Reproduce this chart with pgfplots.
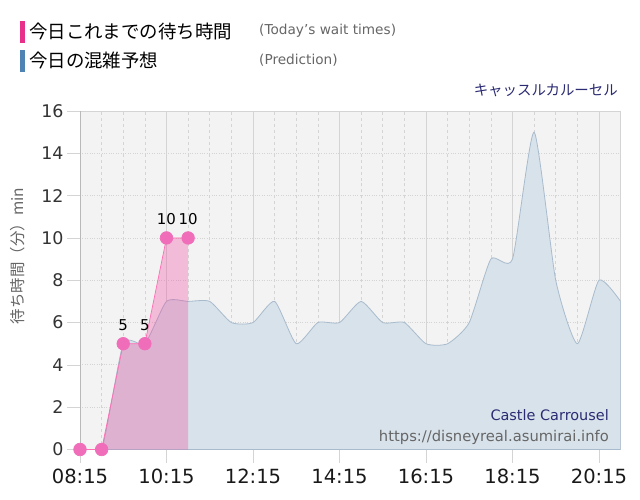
\documentclass[border=0pt]{standalone}
\usepackage{fontspec}
\setmainfont{DejaVu Sans}
\newfontfamily\jp{Noto Sans CJK JP}
\usepackage{pgfplots}
\pgfplotsset{compat=1.18}
\definecolor{pinkbar}{HTML}{E8308A}
\definecolor{bluebar}{HTML}{4F83B3}
\definecolor{pinkline}{HTML}{FF6EB4}
\definecolor{pinkmark}{HTML}{F06EB9}
\definecolor{pinkfill}{HTML}{F0409A}
\definecolor{bluefill}{HTML}{D8E2EA}
\definecolor{blueline}{HTML}{A8BBCD}
\definecolor{bggray}{HTML}{F3F3F3}
\definecolor{navy}{HTML}{2B2B73}
\definecolor{textgray}{HTML}{666666}
\definecolor{gridgray}{HTML}{D4D4D4}
\begin{document}
\begin{tikzpicture}
\path[use as bounding box] (0bp,0bp) rectangle (640bp,500bp);
% legend
\fill[pinkbar] (20bp,479bp) rectangle (25bp,457bp);
\fill[bluebar] (20bp,450bp) rectangle (25bp,428bp);
\node[anchor=west,inner sep=0pt] at (29bp,468.5bp) {\jp\fontsize{18.5}{20}\selectfont 今日これまでの待ち時間};
\node[anchor=west,inner sep=0pt] at (29bp,439.5bp) {\jp\fontsize{18.5}{20}\selectfont 今日の混雑予想};
\node[anchor=west,inner sep=0pt,text=textgray] at (259bp,469bp) {\fontsize{13.7}{15}\selectfont (Today's wait times)};
\node[anchor=west,inner sep=0pt,text=textgray] at (259bp,440bp) {\fontsize{13.7}{15}\selectfont (Prediction)};
\node[anchor=east,inner sep=0pt,text=navy] at (618bp,410bp) {\jp\fontsize{14.5}{15}\selectfont キャッスルカルーセル};
\node[rotate=90,inner sep=0pt,text=textgray] at (18bp,244bp) {\jp\fontsize{15.5}{16}\selectfont 待ち時間（分）min};
\begin{axis}[
  at={(80bp,50.5bp)}, anchor=south west, scale only axis,
  width=540.6bp, height=338.5bp,
  xmin=8.25, xmax=20.75, ymin=0, ymax=16,
  xtick={8.25,10.25,12.25,14.25,16.25,18.25,20.25},
  xticklabels={08:15,10:15,12:15,14:15,16:15,18:15,20:15},
  minor xtick={8.75,9.25,9.75,10.75,11.25,11.75,12.75,13.25,13.75,14.75,15.25,15.75,16.75,17.25,17.75,18.75,19.25,19.75},
  ytick={0,2,4,6,8,10,12,14,16},
  xtick pos=bottom, ytick pos=left,
  /pgf/number format/assume math mode=true,
  xmajorgrids, xminorgrids, ymajorgrids,
  major x grid style={draw=gridgray, line width=0.6bp},
  minor x grid style={draw=gridgray, dashed, line width=0.6bp},
  major y grid style={draw=gridgray, dotted, line width=0.8bp},
  tick align=outside, major tick length=13bp, minor tick length=0bp,
  tick style={draw=gridgray, line width=0.6bp},
  axis line style={draw=gridgray},
  axis background/.style={fill=bggray},
  xticklabel style={font=\fontsize{19.6}{20}\selectfont, text=black!90, yshift=-3bp},
  yticklabel style={font=\fontsize{17.5}{18}\selectfont, text=black!80},
  clip=true,
]
\addplot[draw=blueline, fill=bluefill, line width=0.8bp, smooth, tension=0.35] coordinates {
(8.25,0)(8.75,0)(9.25,5)(9.75,5)(10.25,7)(10.75,7)(11.25,7)(11.75,6)(12.25,6)(12.75,7)(13.25,5)(13.75,6)(14.25,6)(14.75,7)(15.25,6)(15.75,6)(16.25,5)(16.75,5)(17.25,6)(17.75,9)(18.25,9)(18.75,15)(19.25,8)(19.75,5)(20.25,8)(20.75,7)
} \closedcycle;
\addplot[draw=none, fill=pinkfill, fill opacity=0.3] coordinates {
(8.25,0)(8.75,0)(9.25,5)(9.75,5)(10.25,10)(10.75,10)
} \closedcycle;
\addplot[draw=pinkline, line width=0.7bp, mark=*, mark size=6.3bp, mark options={fill=pinkmark, draw=pinkmark}] coordinates {
(8.25,0)(8.75,0)(9.25,5)(9.75,5)(10.25,10)(10.75,10)
};
\addplot[only marks, mark=none, point meta=explicit symbolic, nodes near coords,
  every node near coord/.append style={font=\fontsize{15}{15}\selectfont, text=black, anchor=center, yshift=19bp}] coordinates {
(9.25,5)[5] (9.75,5)[5] (10.25,10)[10] (10.75,10)[10]
};
\draw[gray!55, line width=0.8bp] (rel axis cs:0,0) -- (rel axis cs:0,1);
\end{axis}
\node[anchor=east,inner sep=0pt,text=navy] at (609bp,85bp) {\fontsize{14.5}{15}\selectfont Castle Carrousel};
\node[anchor=east,inner sep=0pt,text=textgray] at (609bp,63bp) {\fontsize{14.8}{15}\selectfont https://disneyreal.asumirai.info};
\end{tikzpicture}
\end{document}
